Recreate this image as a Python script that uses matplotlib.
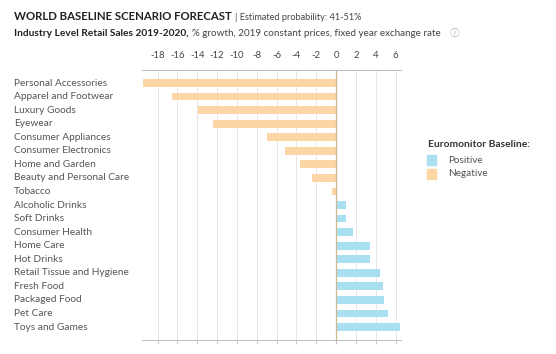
import matplotlib
matplotlib.use("Agg")
import matplotlib.pyplot as plt
from matplotlib.patches import Rectangle

plt.rcParams['font.family'] = ['Lato', 'DejaVu Sans']

categories = ["Personal Accessories", "Apparel and Footwear", "Luxury Goods", "Eyewear",
              "Consumer Appliances", "Consumer Electronics", "Home and Garden",
              "Beauty and Personal Care", "Tobacco", "Alcoholic Drinks", "Soft Drinks",
              "Consumer Health", "Home Care", "Hot Drinks", "Retail Tissue and Hygiene",
              "Fresh Food", "Packaged Food", "Pet Care", "Toys and Games"]
growth = [-19.5, -16.5, -13.9, -12.4, -7.0, -5.1, -3.6, -2.4, -0.4, 1.05, 1.05, 1.7,
          3.4, 3.45, 4.4, 4.7, 4.8, 5.2, 6.45]
tick_values = [-18, -16, -14, -12, -10, -8, -6, -4, -2, 0, 2, 4, 6]

POS = '#A8DFF1'
NEG = '#FDD6A6'
W, H = 556, 354

fig = plt.figure(figsize=(W / 100, H / 100), dpi=100)
fig.patch.set_facecolor('white')

def fx(px):
    return px / W

def fy(py):
    return 1 - py / H

ax_left, ax_right, ax_top, ax_bot = 141.7, 400.5, 70, 340
ax = fig.add_axes([fx(ax_left), fy(ax_bot), fx(ax_right - ax_left), (ax_bot - ax_top) / H])

ypos = list(range(len(categories)))
colors = [POS if v > 0 else NEG for v in growth]
ax.barh(ypos, growth, height=0.57, color=colors, zorder=3)
ax.set_xlim(-19.6, 6.5)
ax.set_ylim(len(categories) - 0.04, -0.96)
ax.axvline(0, color='#CDB894', lw=0.9, zorder=4)

ax.set_xticks(tick_values)
ax.set_xticklabels([str(t) for t in tick_values])
ax.tick_params(axis='x', which='both', bottom=True, top=False, labelbottom=False,
               labeltop=True, length=3, width=0.6, color='#bbbbbb', labelsize=6.8,
               labelcolor='#444444', pad=4)
ax.set_yticks([])
ax.grid(axis='x', color='#e6e6e6', lw=0.7, zorder=0)
for s in ['left', 'right']:
    ax.spines[s].set_visible(False)
for s in ['top', 'bottom']:
    ax.spines[s].set_color('#bbbbbb')
    ax.spines[s].set_linewidth(0.7)

# Category labels
for i, c in enumerate(categories):
    y_px = 83 + i * (327 - 83) / 18
    fig.text(fx(14), fy(y_px), c, fontsize=7.3, color='#555555', va='center', ha='left')

# Title
fig.canvas.draw()
r = fig.canvas.get_renderer()
t1 = fig.text(fx(14), fy(17), "WORLD BASELINE SCENARIO FORECAST", fontsize=8.2,
              fontweight='bold', color='#222222', va='center', ha='left')
bb = t1.get_window_extent(r)
fig.text(bb.x1 / W + fx(3), fy(17), "| Estimated probability: 41-51%", fontsize=6.6,
         color='#444444', va='center', ha='left')
t2 = fig.text(fx(14), fy(33), "Industry Level Retail Sales 2019-2020,", fontsize=7.3,
              fontweight='bold', color='#222222', va='center', ha='left')
bb2 = t2.get_window_extent(r)
t3 = fig.text(bb2.x1 / W + fx(3), fy(33),
              "% growth, 2019 constant prices, fixed year exchange rate", fontsize=7.1,
              color='#444444', va='center', ha='left')
bb3 = t3.get_window_extent(r)
fig.text(bb3.x1 / W + fx(9), fy(33), "\u24d8", fontsize=7, color='#aaaaaa',
         va='center', ha='left', family=['Noto Sans CJK SC', 'DejaVu Sans'])

# Legend
fig.text(fx(428), fy(145), "Euromonitor Baseline:", fontsize=7.4, fontweight='bold',
         color='#333333', va='center', ha='left')
for label, col, ypx in [("Positive", POS, 160), ("Negative", NEG, 174)]:
    fig.add_artist(Rectangle((fx(427), fy(ypx + 4.5)), fx(9), 9 / H, color=col,
                             transform=fig.transFigure))
    fig.text(fx(448), fy(ypx), label, fontsize=7.2, color='#555555', va='center', ha='left')

fig.savefig('out.png', dpi=100, facecolor='white')
